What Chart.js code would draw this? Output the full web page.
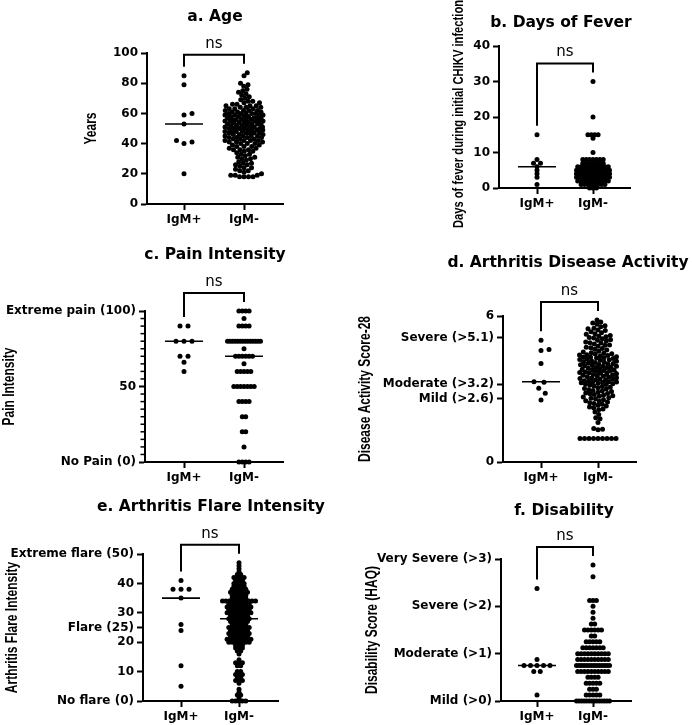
<!DOCTYPE html>
<html><head><meta charset="utf-8">
<script src="https://cdn.jsdelivr.net/npm/chart.js@4.4.1/dist/chart.umd.min.js"></script>
<style>
html,body{margin:0;padding:0;background:#fff;}
#wrap{position:relative;width:692px;height:725px;overflow:hidden;background:#fff;}
#wrap canvas{position:absolute;left:0;top:0;}
</style></head><body><div id="wrap">
<canvas id="ca" width="692" height="725"></canvas>
<canvas id="cb" width="692" height="725"></canvas>
<canvas id="cc" width="692" height="725"></canvas>
<canvas id="cd" width="692" height="725"></canvas>
<canvas id="ce" width="692" height="725"></canvas>
<canvas id="cf" width="692" height="725"></canvas>
</div>
<script>
const groups = ['IgM+', 'IgM-'];

// a. Age
const ageTicks = [0, 20, 40, 60, 80, 100];
const agePos = [85, 79, 60, 59, 53, 42, 41, 40, 20];
const ageNeg = [87, 85, 80, 79, 78, 76, 75, 74, 73, 72, 71, 70, 69, 68, 68, 67, 67, 66, 66, 65, 65, 65, 64, 64, 64, 63, 63, 63, 62, 62, 62, 62, 61, 61, 61, 60, 60, 60, 60, 60, 59, 59, 59, 59, 58, 58, 58, 58, 57, 57, 57, 57, 56, 56, 56, 56, 56, 55, 55, 55, 55, 55, 54, 54, 54, 54, 53, 53, 53, 53, 52, 52, 52, 52, 51, 51, 51, 51, 50, 50, 50, 50, 50, 49, 49, 49, 49, 48, 48, 48, 48, 47, 47, 47, 47, 47, 46, 46, 46, 45, 45, 45, 45, 44, 44, 44, 44, 43, 43, 43, 42, 42, 42, 42, 41, 41, 41, 40, 40, 40, 39, 39, 38, 38, 38, 37, 37, 36, 36, 36, 35, 35, 34, 33, 33, 32, 31, 31, 30, 30, 29, 28, 27, 27, 26, 26, 25, 24, 24, 23, 22, 22, 21, 20, 19, 19, 19, 18, 18, 18, 18];
const ageMedians = [53, 50];

// b. Days of fever
const feverTicks = [0, 10, 20, 30, 40];
const feverPos = [15, 8, 7, 7, 6, 5, 4, 3, 1];
const feverNeg = [30, 20, 15, 15, 15, 15, 14, 10,
  8, 8, 8, 8, 8, 8, 8, 7, 7, 7, 7, 7, 7, 7,
  6, 6, 6, 6, 6, 6, 6, 6, 6, 6,
  5, 5, 5, 5, 5, 5, 5, 5, 5, 5, 5, 5, 5, 5,
  4, 4, 4, 4, 4, 4, 4, 4, 4, 4, 4, 4, 4, 4, 4, 4,
  3, 3, 3, 3, 3, 3, 3, 3, 3, 3, 3, 3, 3, 3,
  2, 2, 2, 2, 2, 2, 2, 2, 2, 2,
  1, 1, 1, 1, 1, 1, 1, 1, 0, 0, 0];
const feverMedians = [6, 4];

// c. Pain intensity
const painTickValues = [0, 50, 100];
const painTickLabels = ['No Pain (0)', '50', 'Extreme pain (100)'];
const painMinorTicks = [5, 10, 15, 20, 25, 30, 35, 40, 45, 55, 60, 65, 70, 75, 80, 85, 90, 95];
const painPos = [90, 90, 80, 80, 80, 70, 70, 66, 60];
const painNeg = [100, 100, 100, 100, 95, 90, 90, 90, 90,
  80, 80, 80, 80, 80, 80, 80, 80, 80, 80, 80, 80, 80, 80,
  75, 70, 70, 70, 70, 70, 70, 65, 60, 60, 60, 60, 60,
  50, 50, 50, 50, 50, 50, 50, 40, 40, 40, 40, 30, 30, 20, 20, 10, 0, 0, 0, 0];
const painMedians = [80, 70];

// d. Arthritis disease activity (DAS28)
const dasTickValues = [0, 2.6, 3.2, 5.1, 6];
const dasTickLabels = ['0', 'Mild (>2.6)', 'Moderate (>3.2)', 'Severe (>5.1)', '6'];
const dasPos = [5.0, 4.62, 4.58, 4.05, 3.3, 3.28, 3.03, 2.83, 2.55];
const dasNeg = [5.84, 5.75, 5.71, 5.66, 5.6, 5.56, 5.5, 5.48, 5.42, 5.4, 5.35, 5.31,
  5.27, 5.25, 5.2, 5.17, 5.15, 5.12, 5.1, 5.06, 5.02, 5.0, 4.97, 4.93, 4.9, 4.89, 4.85, 4.81, 4.8, 4.76, 4.72, 4.7, 4.66, 4.63, 4.6, 4.55, 4.52,
  4.49, 4.47, 4.45, 4.44, 4.41, 4.4, 4.38, 4.36, 4.33, 4.32, 4.3, 4.28, 4.27, 4.25, 4.23, 4.21, 4.2, 4.18, 4.16, 4.14, 4.12, 4.1, 4.09, 4.06, 4.05, 4.03, 4.01, 4.0, 3.98, 3.96, 3.94, 3.93, 3.9, 3.88, 3.86, 3.85, 3.83, 3.81, 3.8, 3.78, 3.76, 3.74, 3.72, 3.7, 3.68, 3.67, 3.65, 3.63, 3.61, 3.6, 3.58, 3.56, 3.54, 3.52, 3.5, 3.48, 3.46, 3.45, 3.43, 3.41, 3.4, 3.38, 3.36, 3.34, 3.32, 3.3, 3.29, 3.28, 3.27, 3.26,
  3.24, 3.22, 3.2, 3.18, 3.15, 3.12, 3.1, 3.07, 3.05, 3.02, 3.0, 2.97, 2.94, 2.92, 2.9, 2.87, 2.84, 2.82, 2.8, 2.77, 2.74, 2.72, 2.7, 2.67, 2.64, 2.62, 2.6, 2.56, 2.52, 2.5, 2.47, 2.44, 2.4, 2.37, 2.33, 2.3, 2.26, 2.22, 2.18, 2.15,
  2.05, 1.95, 1.82, 1.78, 1.62, 1.38, 1.35, 1.33,
  0.97, 0.97, 0.97, 0.97, 0.97, 0.97, 0.97, 0.97, 0.97];
const dasMedians = [3.3, 3.72];

// e. Arthritis flare intensity
const flareTickValues = [0, 10, 20, 25, 30, 40, 50];
const flareTickLabels = ['No flare (0)', '10', '20', 'Flare (25)', '30', '40', 'Extreme flare (50)'];
const flarePos = [41, 38, 38, 38, 35, 26, 24, 12, 5];
const flareNeg = [47, 46, 45, 44, 43, 43, 42, 42, 42, 42, 41, 41, 41, 40, 40, 40, 40, 39, 39, 39, 39,
  38, 38, 38, 38, 38, 37, 37, 37, 37, 37, 37, 36, 36, 36, 36, 36, 35, 35, 35, 35, 35,
  34, 34, 34, 34, 34, 34, 34, 34, 34, 34, 34, 33, 33, 33, 33, 33, 33, 33,
  32, 32, 32, 32, 32, 32, 32, 32, 31, 31, 31, 31, 31, 31, 31, 30, 30, 30, 30, 30, 30, 30, 30,
  29, 29, 29, 29, 29, 29, 28, 28, 28, 28, 28, 28, 28, 27, 27, 27, 27, 27, 27,
  26, 26, 26, 26, 26, 25, 25, 25, 25, 25, 25, 25, 24, 24, 24, 24, 24, 24,
  23, 23, 23, 23, 23, 23, 23, 22, 22, 22, 22, 22, 22, 21, 21, 21, 21, 21, 21, 21, 21,
  20, 20, 20, 20, 20, 20, 20, 19, 19, 19, 18, 18, 18, 17, 17, 16, 14, 13, 13, 13, 12, 12,
  10, 10, 9, 9, 9, 8, 8, 7, 7, 7, 6, 4, 3, 2, 2, 1, 0, 0, 0, 0, 0];
const flareMedians = [35, 28];

// f. Disability (HAQ)
const haqTickValues = [0, 1, 2, 3];
const haqTickLabels = ['Mild (>0)', 'Moderate (>1)', 'Severe (>2)', 'Very Severe (>3)'];
const haqPos = [2.375, 0.875, 0.75, 0.75, 0.75, 0.75, 0.75, 0.625, 0.625, 0.125];
const haqNeg = [2.875, 2.625, 2.125, 2.125, 2.125, 2.0, 1.875, 1.75, 1.625, 1.625,
  1.5, 1.5, 1.5, 1.5, 1.5, 1.5, 1.375, 1.375, 1.25, 1.25, 1.25, 1.25, 1.25,
  1.125, 1.125, 1.125, 1.125, 1.125, 1.125, 1.125,
  1.0, 1.0, 1.0, 1.0, 1.0, 1.0, 1.0, 1.0, 1.0, 1.0,
  0.875, 0.875, 0.875, 0.875, 0.875, 0.875, 0.875, 0.875, 0.875, 0.875,
  0.75, 0.75, 0.75, 0.75, 0.75, 0.75, 0.75, 0.75, 0.75, 0.75, 0.75, 0.75, 0.75, 0.75,
  0.625, 0.625, 0.625, 0.625, 0.625, 0.625, 0.625, 0.625, 0.625, 0.625,
  0.5, 0.5, 0.5, 0.5, 0.375, 0.375, 0.375, 0.375, 0.375, 0.25, 0.25, 0.25,
  0.125, 0.125, 0.125, 0.125, 0.125,
  0, 0, 0, 0, 0, 0, 0, 0, 0, 0, 0, 0, 0, 0];
const haqMedians = [0.75, 0.75];

// ---------- layout (positions / styles) ----------
const panels = [
  {canvas: 'ca', title: 'a. Age', titleX: 215, titleY: 17, L: 147, R: 283, T: 53, B: 204, x1: 184, x2: 244,
   yMin: 0, yMax: 100, tickValues: ageTicks, tickLabels: ageTicks.map(String), minor: [],
   yTitle: 'Years', yTitleX: 92, yTitleSize: 12, pos: agePos, neg: ageNeg, med: ageMedians,
   mode: 'swarm', gapPos: 8, gapNeg: 4.3, cap: 19},
  {canvas: 'cb', title: 'b. Days of Fever', titleX: 561, titleY: 23, L: 499, R: 630, T: 46, B: 188, x1: 537, x2: 593,
   yMin: 0, yMax: 40, tickValues: feverTicks, tickLabels: feverTicks.map(String), minor: [],
   yTitle: 'Days of fever during initial CHIKV infection', yTitleX: 459, yTitleSize: 11.2, yTitleY: 114,
   pos: feverPos, neg: feverNeg, med: feverMedians, mode: 'rows', gapPos: 7, gapNeg: 3.4, cap: 16.5},
  {canvas: 'cc', title: 'c. Pain Intensity', titleX: 215, titleY: 255, L: 145, R: 283, T: 311, B: 462, x1: 184, x2: 244,
   yMin: 0, yMax: 100, tickValues: painTickValues, tickLabels: painTickLabels, minor: painMinorTicks,
   yTitle: 'Pain Intensity', yTitleX: 10, yTitleSize: 12, pos: painPos, neg: painNeg, med: painMedians,
   mode: 'rows', gapPos: 8, gapNeg: 3.4, cap: 16.5},
  {canvas: 'cd', title: 'd. Arthritis Disease Activity', titleX: 568, titleY: 263, L: 503, R: 636, T: 316, B: 462, x1: 541, x2: 598,
   yMin: 0, yMax: 6, tickValues: dasTickValues, tickLabels: dasTickLabels, minor: [],
   yTitle: 'Disease Activity Score-28', yTitleX: 366, yTitleSize: 12, pos: dasPos, neg: dasNeg, med: dasMedians,
   mode: 'swarm', gapPos: 8, gapNeg: 4.3, cap: 18.5},
  {canvas: 'ce', title: 'e. Arthritis Flare Intensity', titleX: 211, titleY: 507, L: 143, R: 278, T: 554, B: 701, x1: 181, x2: 239,
   yMin: 0, yMax: 50, tickValues: flareTickValues, tickLabels: flareTickLabels, minor: [],
   yTitle: 'Arthritis Flare Intensity', yTitleX: 13, yTitleSize: 12, pos: flarePos, neg: flareNeg, med: flareMedians,
   mode: 'rows', gapPos: 8, gapNeg: 3.4, cap: 16.5},
  {canvas: 'cf', title: 'f. Disability', titleX: 564, titleY: 511, L: 501, R: 631, T: 559, B: 701, x1: 537, x2: 593,
   yMin: 0, yMax: 3, tickValues: haqTickValues, tickLabels: haqTickLabels, minor: [],
   yTitle: 'Disability Score (HAQ)', yTitleX: 373, yTitleSize: 12, pos: haqPos, neg: haqNeg, med: haqMedians,
   mode: 'rows', gapPos: 6.5, gapNeg: 3.4, cap: 16.5}
];

const W = 692, H = 725, XAXIS_H = 30, DOT_R = 2.5, MED_HALF = 19;

// deterministic dot-spreading (column scatter layout) from the values
function layoutColumn(values, pxPerY, gap, cap, mode) {
  const n = values.length;
  const idx = values.map((v, i) => i).sort((a, b) => values[a] - values[b]);
  const off = new Array(n).fill(0);
  if (mode === 'rows') {
    let i = 0;
    while (i < n) {
      let j = i;
      while (j < n && values[idx[j]] === values[idx[i]]) j++;
      const m = j - i;
      const s = m > 1 ? Math.min(gap, 2 * cap / (m - 1)) : 0;
      for (let k = 0; k < m; k++) off[idx[i + k]] = (k - (m - 1) / 2) * s;
      i = j;
    }
    return off;
  }
  const placed = [];
  let toggle = 1;
  for (const id of idx) {
    const y = values[id] * pxPerY;
    const near = placed.filter(p => Math.abs(p.y - y) < gap);
    const free = x => near.every(p => Math.hypot(p.x - x, p.y - y) >= gap - 1e-6);
    let chosen = null;
    for (let d = 0; d <= cap + 1e-9; d += 0.25) {
      const cands = d === 0 ? [0] : [toggle * d, -toggle * d];
      for (const c of cands) { if (free(c)) { chosen = c; break; } }
      if (chosen !== null) break;
    }
    if (chosen === null) {
      let best = 0, bestD = -1;
      for (let x = -cap; x <= cap + 1e-9; x += 0.25) {
        const dm = Math.min(...near.map(p => Math.hypot(p.x - x, p.y - y)));
        if (dm > bestD + 1e-9) { bestD = dm; best = x; }
      }
      chosen = best;
    }
    if (chosen !== 0) toggle = -Math.sign(chosen);
    off[id] = chosen;
    placed.push({x: chosen, y});
  }
  return off;
}

Chart.defaults.font.family = '"DejaVu Sans", sans-serif';
Chart.defaults.font.size = 12;
Chart.defaults.font.weight = 'bold';
Chart.defaults.color = '#000';

function makeDecor(p) {
  return {
    id: 'decor_' + p.canvas,
    afterDraw(chart) {
      const ctx = chart.ctx;
      const xs = chart.scales.x, ys = chart.scales.y;
      ctx.save();
      ctx.fillStyle = '#000';
      ctx.strokeStyle = '#000';
      // panel title
      ctx.font = 'bold 15.5px "DejaVu Sans"';
      ctx.textAlign = 'center';
      ctx.textBaseline = 'middle';
      ctx.fillText(p.title, p.titleX, p.titleY);
      // y-axis title (rotated, slightly widened across like the source)
      ctx.save();
      const cy = p.yTitleY !== undefined ? p.yTitleY : (chart.chartArea.top + chart.chartArea.bottom) / 2;
      ctx.translate(p.yTitleX, cy);
      ctx.rotate(-Math.PI / 2);
      ctx.scale(1, 1.3);
      ctx.font = 'bold ' + p.yTitleSize + 'px "Liberation Sans"';
      ctx.fillText(p.yTitle, 0, 0);
      ctx.restore();
      // minor ticks
      ctx.lineWidth = 1.5;
      p.minor.forEach(v => {
        const y = ys.getPixelForValue(v);
        ctx.beginPath();
        ctx.moveTo(chart.chartArea.left - 4.5, y);
        ctx.lineTo(chart.chartArea.left, y);
        ctx.stroke();
      });
      // significance bracket
      const xa = xs.getPixelForValue(1), xb = xs.getPixelForValue(2);
      const maxP = Math.max(...p.pos), maxN = Math.max(...p.neg);
      const legA = ys.getPixelForValue(maxP) - 9;
      const legB = ys.getPixelForValue(maxN) - 9;
      const top = ys.getPixelForValue(Math.max(maxP, maxN)) - 18;
      ctx.lineWidth = 2;
      ctx.beginPath();
      ctx.moveTo(xa, legA);
      ctx.lineTo(xa, top);
      ctx.lineTo(xb, top);
      ctx.lineTo(xb, legB);
      ctx.stroke();
      ctx.font = '15px "DejaVu Sans"';
      ctx.fillText('ns', (xa + xb) / 2, top - 11);
      ctx.restore();
    }
  };
}

panels.forEach(p => {
  const pxPerX = p.x2 - p.x1;
  const pxPerY = (p.B - p.T) / (p.yMax - p.yMin);
  const xMin = 1 - (p.x1 - p.L) / pxPerX;
  const xMax = 2 + (p.R - p.x2) / pxPerX;
  const offP = layoutColumn(p.pos, pxPerY, p.gapPos, p.cap, p.mode);
  const offN = layoutColumn(p.neg, pxPerY, p.gapNeg, p.cap, p.mode);
  const hw = MED_HALF / pxPerX;
  const medLine = (g, m) => ({
    type: 'line', showLine: true, data: [{x: g - hw, y: m}, {x: g + hw, y: m}],
    borderColor: '#000', borderWidth: 1.6, pointRadius: 0, clip: false
  });
  const dots = (g, vals, off) => ({
    type: 'scatter', data: vals.map((v, i) => ({x: g + off[i] / pxPerX, y: v})),
    backgroundColor: '#000', borderWidth: 0, pointRadius: DOT_R, pointHoverRadius: DOT_R, clip: false
  });
  new Chart(document.getElementById(p.canvas), {
    type: 'scatter',
    data: {
      datasets: [medLine(1, p.med[0]), medLine(2, p.med[1]), dots(1, p.pos, offP), dots(2, p.neg, offN)]
    },
    options: {
      responsive: false,
      animation: false,
      devicePixelRatio: 1,
      events: [],
      layout: {padding: {left: 0, top: p.T, right: W - p.R, bottom: H - p.B - XAXIS_H}},
      plugins: {legend: {display: false}, tooltip: {enabled: false}, title: {display: false}},
      scales: {
        x: {
          type: 'linear', min: xMin, max: xMax,
          afterBuildTicks: s => { s.ticks = [{value: 1}, {value: 2}]; },
          afterFit: s => { s.height = XAXIS_H; },
          ticks: {callback: v => groups[Math.round(v) - 1] || '', padding: 3, autoSkip: false, maxRotation: 0},
          grid: {display: true, drawOnChartArea: false, drawTicks: true, tickLength: 6, tickWidth: 2, tickColor: '#000', color: '#000'},
          border: {display: true, width: 2, color: '#000'}
        },
        y: {
          type: 'linear', min: p.yMin, max: p.yMax,
          afterBuildTicks: s => { s.ticks = p.tickValues.map(v => ({value: v})); },
          afterFit: s => { s.width = p.L; },
          ticks: {
            callback: v => { const i = p.tickValues.indexOf(v); return i >= 0 ? p.tickLabels[i] : ''; },
            padding: 3, autoSkip: false
          },
          grid: {display: true, drawOnChartArea: false, drawTicks: true, tickLength: 6, tickWidth: 2, tickColor: '#000', color: '#000'},
          border: {display: true, width: 2, color: '#000'}
        }
      }
    },
    plugins: [makeDecor(p)]
  });
});
</script>
</body></html>
